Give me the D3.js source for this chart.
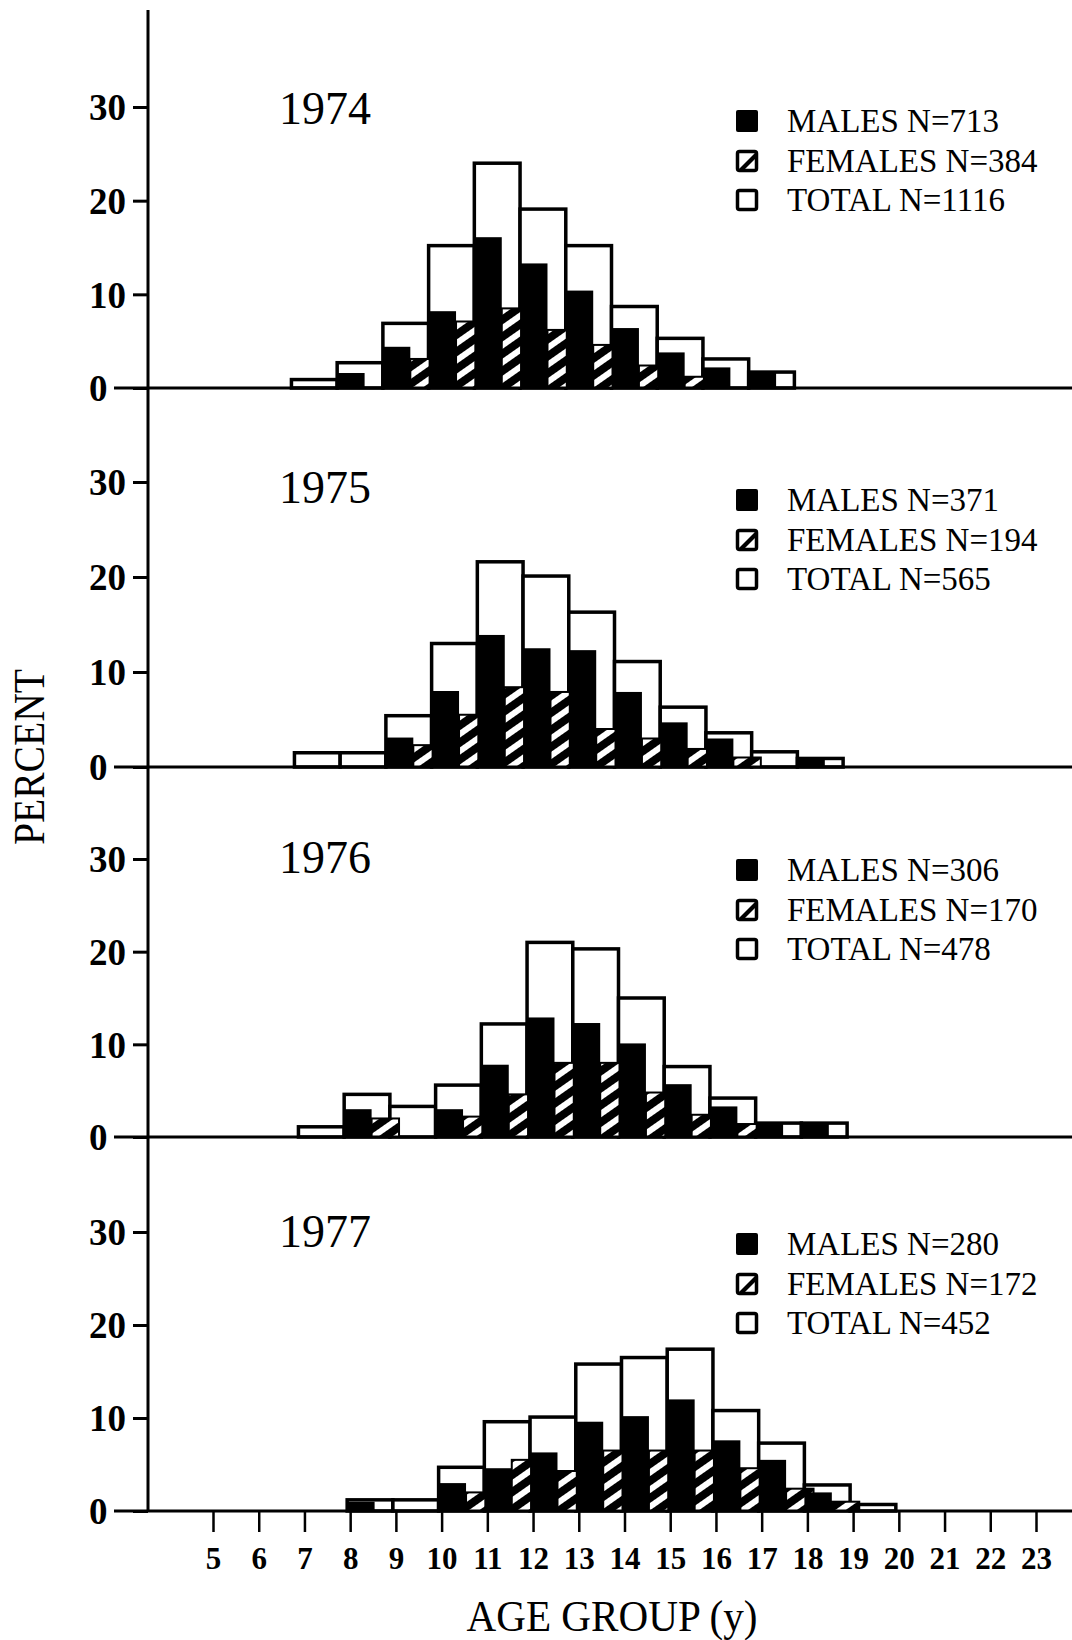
<!DOCTYPE html>
<html><head><meta charset="utf-8">
<script src="https://cdn.jsdelivr.net/npm/d3@7"></script>
<style>body{margin:0;background:#fff} svg{display:block}</style>
</head><body>
<svg id="c" width="1072" height="1640"></svg>
<script>
// ---------- DATA ----------
const ages = [7, 8, 9, 10, 11, 12, 13, 14, 15, 16, 17, 18, 19];
const years = ["1974", "1975", "1976", "1977"];
const malesN = [713, 371, 306, 280];
const femalesN = [384, 194, 170, 172];
const totalN = [1116, 565, 478, 452];

const total1974  = [0.9, 2.7, 6.9, 15.2, 24.0, 19.1, 15.2, 8.7, 5.3, 3.1, 1.7, 0, 0];
const male1974   = [0, 1.6, 4.4, 8.2, 16.1, 13.3, 10.4, 6.4, 3.8, 2.2, 1.6, 0, 0];
const female1974 = [0, 0, 3.1, 7.1, 8.5, 6.2, 4.6, 2.4, 1.2, 0, 0, 0, 0];

const total1975  = [1.5, 1.5, 5.4, 13.0, 21.6, 20.1, 16.3, 11.1, 6.3, 3.6, 1.6, 0.9, 0];
const male1975   = [0, 0, 3.1, 8.0, 13.9, 12.5, 12.3, 7.9, 4.7, 3.0, 0, 0.9, 0];
const female1975 = [0, 0, 2.3, 5.5, 8.4, 7.9, 4.0, 3.0, 1.9, 1.0, 0, 0, 0];

const total1976  = [1.1, 4.6, 3.3, 5.6, 12.2, 21.0, 20.3, 15.0, 7.6, 4.2, 1.5, 1.5, 0];
const male1976   = [0, 3.0, 0, 3.0, 7.8, 12.9, 12.3, 10.1, 5.7, 3.3, 1.4, 1.4, 0];
const female1976 = [0, 2.0, 0, 2.2, 4.6, 8.0, 8.0, 4.8, 2.4, 1.4, 0, 0, 0];

const total1977  = [0, 1.2, 1.2, 4.7, 9.6, 10.1, 15.8, 16.5, 17.4, 10.8, 7.3, 2.8, 0.7];
const male1977   = [0, 1.0, 0, 3.0, 4.6, 6.3, 9.6, 10.2, 12.0, 7.6, 5.5, 2.0, 0];
const female1977 = [0, 0, 0, 2.0, 5.5, 4.3, 6.5, 6.5, 6.5, 4.6, 2.4, 1.0, 0];

const yTickValues = [0, 10, 20, 30];
const xTickValues = [5, 6, 7, 8, 9, 10, 11, 12, 13, 14, 15, 16, 17, 18, 19, 20, 21, 22, 23];

const totals = [total1974, total1975, total1976, total1977];
const males = [male1974, male1975, male1976, male1977];
const females = [female1974, female1975, female1976, female1977];

// ---------- LAYOUT ----------
const svg = d3.select("#c");
const axisX = 148;
const baselines = [388, 767, 1137, 1511];
const tops30 = [107, 482, 859, 1232];
const shifts = [-13, -10, -6, -3];
const serif = "'Liberation Serif', 'Times New Roman', serif";

const x = d3.scaleLinear().domain([5, 23]).range([213, 1036]);

const defs = svg.append("defs");
const pat = defs.append("pattern").attr("id", "hatch")
  .attr("patternUnits", "userSpaceOnUse").attr("width", 14).attr("height", 14)
  .attr("patternTransform", "rotate(-35)");
pat.append("rect").attr("width", 14).attr("height", 14).attr("fill", "#fff");
pat.append("rect").attr("width", 14).attr("height", 8).attr("fill", "#000");

years.forEach((yr, p) => {
  const y = d3.scaleLinear().domain([0, 30]).range([baselines[p], tops30[p]]);
  const sx = v => x(v) + shifts[p];
  const g = svg.append("g");

  const rows = ages.map((a, i) => ({a, t: totals[p][i], m: males[p][i], f: females[p][i]}));

  // totals (white outlined)
  g.selectAll("rect.tot").data(rows.filter(d => d.t > 0)).join("rect")
    .attr("class", "tot")
    .attr("x", d => sx(d.a)).attr("width", d => sx(d.a + 1) - sx(d.a))
    .attr("y", d => y(d.t)).attr("height", d => y(0) - y(d.t))
    .attr("fill", "#fff").attr("stroke", "#000").attr("stroke-width", 3.5);

  // females (hatched)
  g.selectAll("rect.fem").data(rows.filter(d => d.f > 0)).join("rect")
    .attr("class", "fem")
    .attr("x", d => sx(d.a + 0.6)).attr("width", d => sx(d.a + 1.2) - sx(d.a + 0.6))
    .attr("y", d => y(d.f)).attr("height", d => y(0) - y(d.f))
    .attr("fill", "url(#hatch)").attr("stroke", "#000").attr("stroke-width", 2);

  // males (black)
  g.selectAll("rect.mal").data(rows.filter(d => d.m > 0)).join("rect")
    .attr("class", "mal")
    .attr("x", d => sx(d.a)).attr("width", d => sx(d.a + 0.6) - sx(d.a))
    .attr("y", d => y(d.m)).attr("height", d => y(0) - y(d.m))
    .attr("fill", "#000");

  // baseline
  svg.append("line").attr("x1", 114).attr("x2", 1072)
    .attr("y1", y(0)).attr("y2", y(0)).attr("stroke", "#000").attr("stroke-width", 3);

  // y axis ticks/labels
  const ax = svg.append("g").attr("transform", `translate(${axisX},0)`)
    .call(d3.axisLeft(y).tickValues(yTickValues).tickSize(15).tickSizeOuter(0));
  ax.select(".domain").remove();
  ax.selectAll(".tick line").attr("stroke", "#000").attr("stroke-width", 3);
  ax.selectAll(".tick text").attr("x", 89 - axisX).attr("text-anchor", "start")
    .attr("dy", "0.35em").attr("fill", "#000")
    .style("font-family", serif).style("font-weight", "bold").style("font-size", "37px");

  // year label
  svg.append("text").attr("x", 279).attr("y", y(0) - 264).text(yr)
    .style("font-family", serif).style("font-size", "46px").attr("fill", "#000");

  // legend
  const lg = svg.append("g");
  const rowY = [y(0) - 267, y(0) - 227, y(0) - 188];
  const labels = [`MALES N=${malesN[p]}`, `FEMALES N=${femalesN[p]}`, `TOTAL N=${totalN[p]}`];
  lg.append("rect").attr("x", 736).attr("y", rowY[0] - 11).attr("width", 22).attr("height", 22)
    .attr("rx", 2).attr("fill", "#000");
  lg.append("rect").attr("x", 737.5).attr("y", rowY[1] - 9.5).attr("width", 19).attr("height", 19)
    .attr("rx", 2).attr("fill", "#fff").attr("stroke", "#000").attr("stroke-width", 3.5);
  lg.append("path").attr("d", `M${738},${rowY[1] + 9} L${756},${rowY[1] - 9} L${756},${rowY[1] - 3} L${744},${rowY[1] + 9} Z`)
    .attr("fill", "#000");
  lg.append("rect").attr("x", 737.5).attr("y", rowY[2] - 9.5).attr("width", 19).attr("height", 19)
    .attr("rx", 2).attr("fill", "#fff").attr("stroke", "#000").attr("stroke-width", 3.5);
  labels.forEach((t, i) => {
    lg.append("text").attr("x", 787).attr("y", rowY[i] + 11).text(t)
      .style("font-family", serif).style("font-size", "33px").attr("fill", "#000");
  });
});

// y axis line
svg.append("line").attr("x1", axisX).attr("x2", axisX).attr("y1", 10).attr("y2", baselines[3])
  .attr("stroke", "#000").attr("stroke-width", 3);

// bottom x axis
const bx = svg.append("g").attr("transform", `translate(0,${baselines[3]})`)
  .call(d3.axisBottom(x).tickValues(xTickValues).tickSize(21).tickPadding(15).tickSizeOuter(0));
bx.select(".domain").remove();
bx.selectAll(".tick line").attr("stroke", "#000").attr("stroke-width", 2.5);
bx.selectAll(".tick text").attr("fill", "#000")
  .style("font-family", serif).style("font-weight", "bold").style("font-size", "31px");

// axis titles
svg.append("text").attr("transform", "translate(44,757) rotate(-90)")
  .attr("text-anchor", "middle").attr("textLength", 176).attr("lengthAdjust", "spacingAndGlyphs")
  .text("PERCENT").style("font-family", serif).style("font-size", "44px").attr("fill", "#000");
svg.append("text").attr("x", 612).attr("y", 1631)
  .attr("text-anchor", "middle").attr("textLength", 291).attr("lengthAdjust", "spacingAndGlyphs")
  .text("AGE GROUP (y)").style("font-family", serif).style("font-size", "44px").attr("fill", "#000");
</script>
</body></html>
